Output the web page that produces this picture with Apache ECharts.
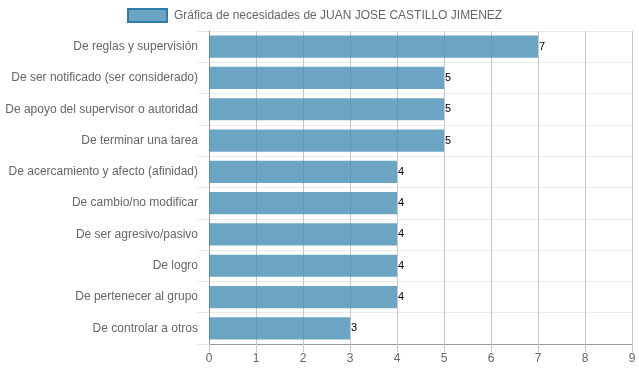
<!DOCTYPE html>
<html><head><meta charset="utf-8">
<script src="https://cdn.jsdelivr.net/npm/echarts@6/dist/echarts.min.js"></script>
<style>html,body{margin:0;padding:0;background:#fff}#c{width:639px;height:372px}</style>
</head><body><div id="c"></div>
<script>
const categories = [
  "De reglas y supervisión",
  "De ser notificado (ser considerado)",
  "De apoyo del supervisor o autoridad",
  "De terminar una tarea",
  "De acercamiento y afecto (afinidad)",
  "De cambio/no modificar",
  "De ser agresivo/pasivo",
  "De logro",
  "De pertenecer al grupo",
  "De controlar a otros"
];
const values = [7, 5, 5, 5, 4, 4, 4, 4, 4, 3];
const seriesName = "Gráfica de necesidades de JUAN JOSE CASTILLO JIMENEZ";
const xTicks = { min: 0, max: 9, interval: 1 };

const chart = echarts.init(document.getElementById('c'), null, {renderer: 'canvas'});
chart.setOption({
  animation: false,
  textStyle: { fontFamily: 'Liberation Sans, Arial, sans-serif' },
  legend: {
    top: 8, left: 127, padding: 0,
    itemWidth: 39, itemHeight: 13, itemGap: 8,
    textStyle: { color: '#666', fontSize: 12, padding: [0, 0, 0, 2] },
    data: [{ name: seriesName, icon: 'rect', itemStyle: { color: 'rgba(70,142,180,0.8)', borderColor: '#2e7cab', borderWidth: 2 } }]
  },
  grid: { left: 209, right: 7, top: 31, bottom: 28, containLabel: false },
  xAxis: {
    type: 'value', min: xTicks.min, max: xTicks.max, interval: xTicks.interval,
    axisLine: { show: true, lineStyle: { color: '#999' } },
    axisTick: { show: true, length: 8, lineStyle: { color: '#c8c8c8' } },
    axisLabel: { color: '#666', fontSize: 12, margin: 9 },
    splitLine: { show: true, lineStyle: { color: '#c8c8c8' } }
  },
  yAxis: {
    type: 'category', data: categories, inverse: true,
    axisLine: { show: true, lineStyle: { color: '#999' } },
    axisTick: { show: true, length: 12, lineStyle: { color: '#e8e8e8' } },
    axisLabel: { color: '#666', fontSize: 12, margin: 11 },
    splitLine: { show: true, lineStyle: { color: '#ececec' } }
  },
  series: [{
    name: seriesName, type: 'bar', data: values,
    barCategoryGap: '29%',
    itemStyle: { color: 'rgba(70,142,180,0.8)' },
    emphasis: { disabled: true },
    label: { show: true, position: 'right', distance: 1, color: '#000', fontSize: 11 }
  }]
});
</script></body></html>
